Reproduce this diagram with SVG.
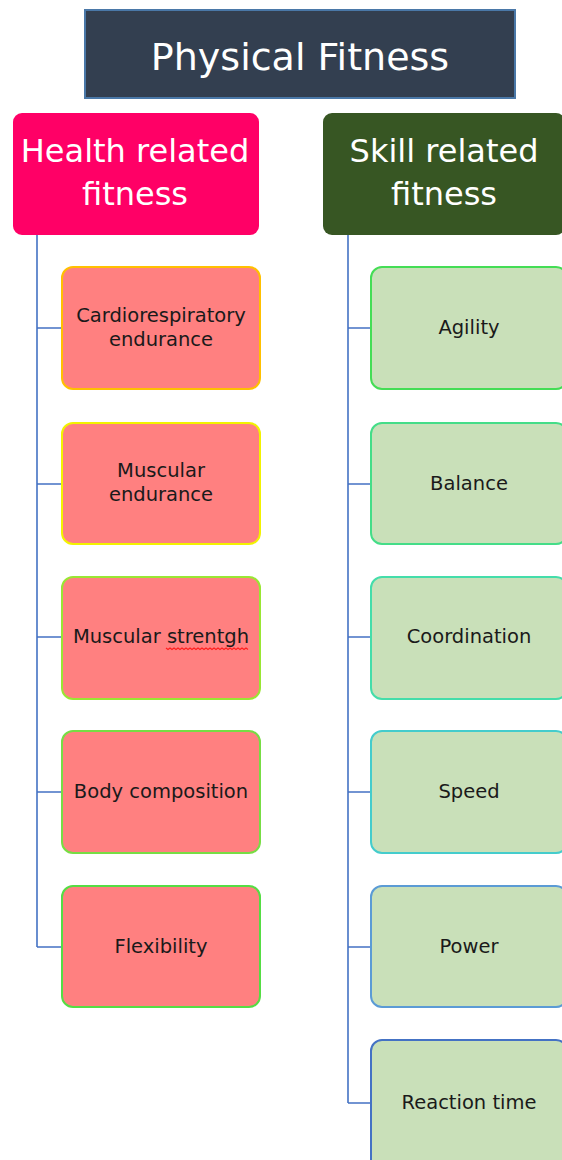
<svg xmlns="http://www.w3.org/2000/svg" width="562" height="1160" viewBox="0 0 562 1160">
<style>
.t{font-family:"DejaVu Sans","Liberation Sans",sans-serif;text-anchor:middle}
.hd{fill:#ffffff;font-size:32px}
.lb{fill:#1a1a1a;font-size:19.5px}
.hb{fill:#ff8080;stroke-width:2}
.sb{fill:#c9e0b9;stroke-width:2}
.cn{fill:none;stroke:#4472c4;stroke-width:1.6}
</style>
<rect width="562" height="1160" fill="#ffffff"/>
<g id="connectors">
<path class="cn" d="M37 235V947M37 328H62M37 484H62M37 637H62M37 792H62M37 947H62"/>
<path class="cn" d="M348 235V1103M348 328H371M348 484H371M348 637H371M348 792H371M348 947H371M348 1103H371"/>
</g>
<g id="title">
<rect x="85" y="10" width="430" height="88" fill="#333f50" stroke="#4a78a8" stroke-width="2"/>
<text class="t" x="300" y="70" fill="#ffffff" font-size="38">Physical Fitness</text>
</g>
<g id="health">
<rect x="13" y="113" width="246" height="122" rx="9" fill="#ff0066"/>
<text class="t hd" x="135" y="162">Health related</text>
<text class="t hd" x="135" y="205">fitness</text>
</g>
<g id="skill">
<rect x="323" y="113" width="242" height="122" rx="9" fill="#375623"/>
<text class="t hd" x="444" y="162">Skill related</text>
<text class="t hd" x="444" y="205">fitness</text>
</g>
<g id="cardio">
<rect class="hb" x="62" y="267" width="198" height="122" rx="11" stroke="#ffc000"/>
<text class="t lb" x="161" y="322">Cardiorespiratory</text>
<text class="t lb" x="161" y="346">endurance</text>
</g>
<g id="muscend">
<rect class="hb" x="62" y="423" width="198" height="121" rx="11" stroke="#f2f200"/>
<text class="t lb" x="161" y="477">Muscular</text>
<text class="t lb" x="161" y="501">endurance</text>
</g>
<g id="muscstr">
<rect class="hb" x="62" y="577" width="198" height="122" rx="11" stroke="#99e633"/>
<text class="t lb" x="161" y="643">Muscular strentgh</text>
<path d="M166 648l2 1.5 2-1.5 2 1.5 2-1.5 2 1.5 2-1.5 2 1.5 2-1.5 2 1.5 2-1.5 2 1.5 2-1.5 2 1.5 2-1.5 2 1.5 2-1.5 2 1.5 2-1.5 2 1.5 2-1.5 2 1.5 2-1.5 2 1.5 2-1.5 2 1.5 2-1.5 2 1.5 2-1.5 2 1.5 2-1.5 2 1.5 2-1.5 2 1.5 2-1.5 2 1.5 2-1.5 2 1.5 2-1.5 2 1.5 2-1.5 2 1.5" fill="none" stroke="#ff2020" stroke-width="1.2"/>
</g>
<g id="bodycomp">
<rect class="hb" x="62" y="731" width="198" height="122" rx="11" stroke="#77dd44"/>
<text class="t lb" x="161" y="798">Body composition</text>
</g>
<g id="flex">
<rect class="hb" x="62" y="886" width="198" height="121" rx="11" stroke="#55dd44"/>
<text class="t lb" x="161" y="953">Flexibility</text>
</g>
<g id="agility">
<rect class="sb" x="371" y="267" width="196" height="122" rx="11" stroke="#44dd55"/>
<text class="t lb" x="469" y="334">Agility</text>
</g>
<g id="balance">
<rect class="sb" x="371" y="423" width="196" height="121" rx="11" stroke="#44dd88"/>
<text class="t lb" x="469" y="490">Balance</text>
</g>
<g id="coord">
<rect class="sb" x="371" y="577" width="196" height="122" rx="11" stroke="#44ddaa"/>
<text class="t lb" x="469" y="643">Coordination</text>
</g>
<g id="speed">
<rect class="sb" x="371" y="731" width="196" height="122" rx="11" stroke="#44cccc"/>
<text class="t lb" x="469" y="798">Speed</text>
</g>
<g id="power">
<rect class="sb" x="371" y="886" width="196" height="121" rx="11" stroke="#5b9bd5"/>
<text class="t lb" x="469" y="953">Power</text>
</g>
<g id="reaction">
<rect class="sb" x="371" y="1040" width="196" height="130" rx="11" stroke="#4472c4"/>
<text class="t lb" x="469" y="1109">Reaction time</text>
</g>
</svg>
